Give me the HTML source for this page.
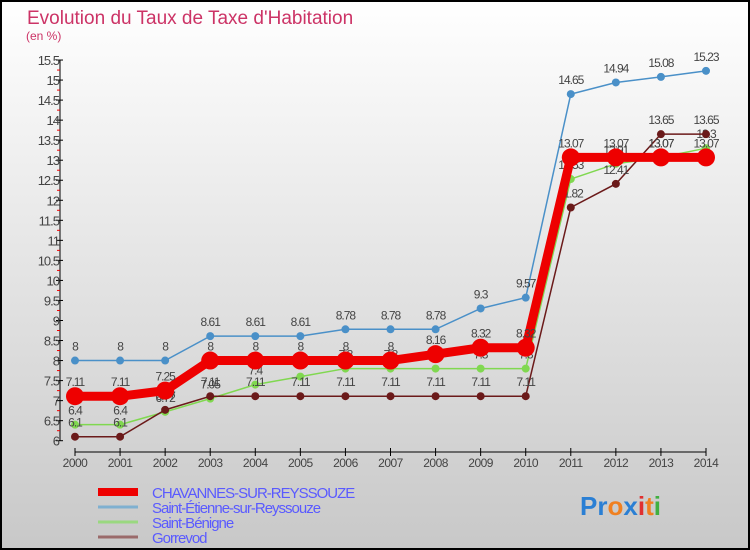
<!DOCTYPE html>
<html><head><meta charset="utf-8"><style>
body{margin:0}
svg{display:block;font-family:"Liberation Sans",sans-serif}
</style></head><body>
<svg id="c" width="750" height="550" xmlns="http://www.w3.org/2000/svg">
<defs><linearGradient id="bg" x1="0" y1="0" x2="0" y2="1"><stop offset="0" stop-color="#ffffff"/><stop offset="1" stop-color="#c8c8c8"/></linearGradient></defs>
<rect x="0" y="0" width="750" height="550" fill="url(#bg)"/>
<rect x="1" y="1" width="748" height="548" fill="none" stroke="#000" stroke-width="2"/>
<text x="27" y="24" font-size="19" fill="#cc3366">Evolution du Taux de Taxe d'Habitation</text>
<text x="26" y="40" font-size="12" fill="#cc3366">(en %)</text>
<g id="axes"></g>
<g id="series"></g>
<g id="legend"></g>
<text x="580" y="515" font-size="26" font-weight="bold"><tspan fill="#2a7fd4">Pr</tspan><tspan fill="#f08020">o</tspan><tspan fill="#2a7fd4">x</tspan><tspan fill="#e03030">i</tspan><tspan fill="#f08020">t</tspan><tspan fill="#40b040">i</tspan></text>
</svg>
<script>
const years=[2000,2001,2002,2003,2004,2005,2006,2007,2008,2009,2010,2011,2012,2013,2014];
const chav=[7.11,7.11,7.25,8,8,8,8,8,8.16,8.32,8.32,13.07,13.07,13.07,13.07];
const etienne=[8,8,8,8.61,8.61,8.61,8.78,8.78,8.78,9.3,9.57,14.65,14.94,15.08,15.23];
const benigne=[6.4,6.4,6.72,7.05,7.4,7.6,7.8,7.8,7.8,7.8,7.8,12.53,12.91,13.07,13.3];
const gorrevod=[6.1,6.1,6.77,7.11,7.11,7.11,7.11,7.11,7.11,7.11,7.11,11.82,12.41,13.65,13.65];
const yTicks=[6,6.5,7,7.5,8,8.5,9,9.5,10,10.5,11,11.5,12,12.5,13,13.5,14,14.5,15,15.5];
const names=["CHAVANNES-SUR-REYSSOUZE","Saint-Étienne-sur-Reyssouze","Saint-Bénigne","Gorrevod"];
const NS="http://www.w3.org/2000/svg";
const x=i=>75+i*(631/14);
const y=v=>440.7-(v-6)*40.07;
function mk(t,a,p){const e=document.createElementNS(NS,t);for(const k in a)e.setAttribute(k,a[k]);p.appendChild(e);return e;}
const ax=document.getElementById('axes');
let l=mk('line',{x1:60,y1:y(15.5),x2:60,y2:y(6),stroke:'#000'},ax);


for(let v=6;v<=15.5001;v+=0.25){
  const maj=Math.abs(v*2-Math.round(v*2))<1e-6;
  const t=mk('line',{x1:maj?56:57,y1:y(v),x2:maj?63:60,y2:y(v),stroke:maj?'#000':'#e00'},ax);
  
  
}
yTicks.forEach(v=>{
  const t=mk('text',{x:59,y:y(v)+5,'text-anchor':'end','font-size':13,fill:'#444','letter-spacing':'-1'},ax);
  t.textContent=String(v);
  
  
});
l=mk('line',{x1:x(0),y1:452,x2:x(14),y2:452,stroke:'#000'},ax);


years.forEach((yr,i)=>{
  const t=mk('line',{x1:x(i),y1:448,x2:x(i),y2:456,stroke:'#000'},ax);
  
  
  const tx=mk('text',{x:x(i),y:467,'text-anchor':'middle','font-size':12,fill:'#444','letter-spacing':'-0.5'},ax);
  tx.textContent=yr;
  
  
});
const sg=document.getElementById('series');
const defs=[
 {d:etienne,c:'#4a90c8',w:1.5,r:4,n:'saint-etienne'},
 {d:benigne,c:'#80d850',w:1.5,r:4,n:'saint-benigne'},
 {d:gorrevod,c:'#6b1a1a',w:1.5,r:4,n:'gorrevod'},
 {d:chav,c:'#ee0000',w:9,r:9,n:'chavannes'}];
defs.forEach(s=>{
  const g=mk('g',{},sg);
  
  
  const p=mk('polyline',{points:s.d.map((v,i)=>x(i)+','+y(v)).join(' '),fill:'none',stroke:s.c,'stroke-width':s.w},g);
  
  
  s.d.forEach((v,i)=>{
    const c=mk('circle',{cx:x(i),cy:y(v),r:s.r,fill:s.c},g);
    
    
    const t=mk('text',{x:x(i),y:y(v)-10,'text-anchor':'middle','font-size':12,fill:'#444','letter-spacing':'-1'},g);
    t.textContent=String(v);
    
    
  });
});
const lg=document.getElementById('legend');
const lc=['#ee0000','#7fb0d0','#9ad880','#9a6a6a'],lw=[8,3,3,3];
names.forEach((n,i)=>{
  const yy=492+i*15;
  const e=mk('line',{x1:98,y1:yy,x2:138,y2:yy,stroke:lc[i],'stroke-width':lw[i]},lg);
  
  
  const t=mk('text',{x:152,y:yy+6,'font-size':15,fill:'#5a5aff','letter-spacing':'-1'},lg);
  t.textContent=n;
  
  
});
</script>
</body></html>
